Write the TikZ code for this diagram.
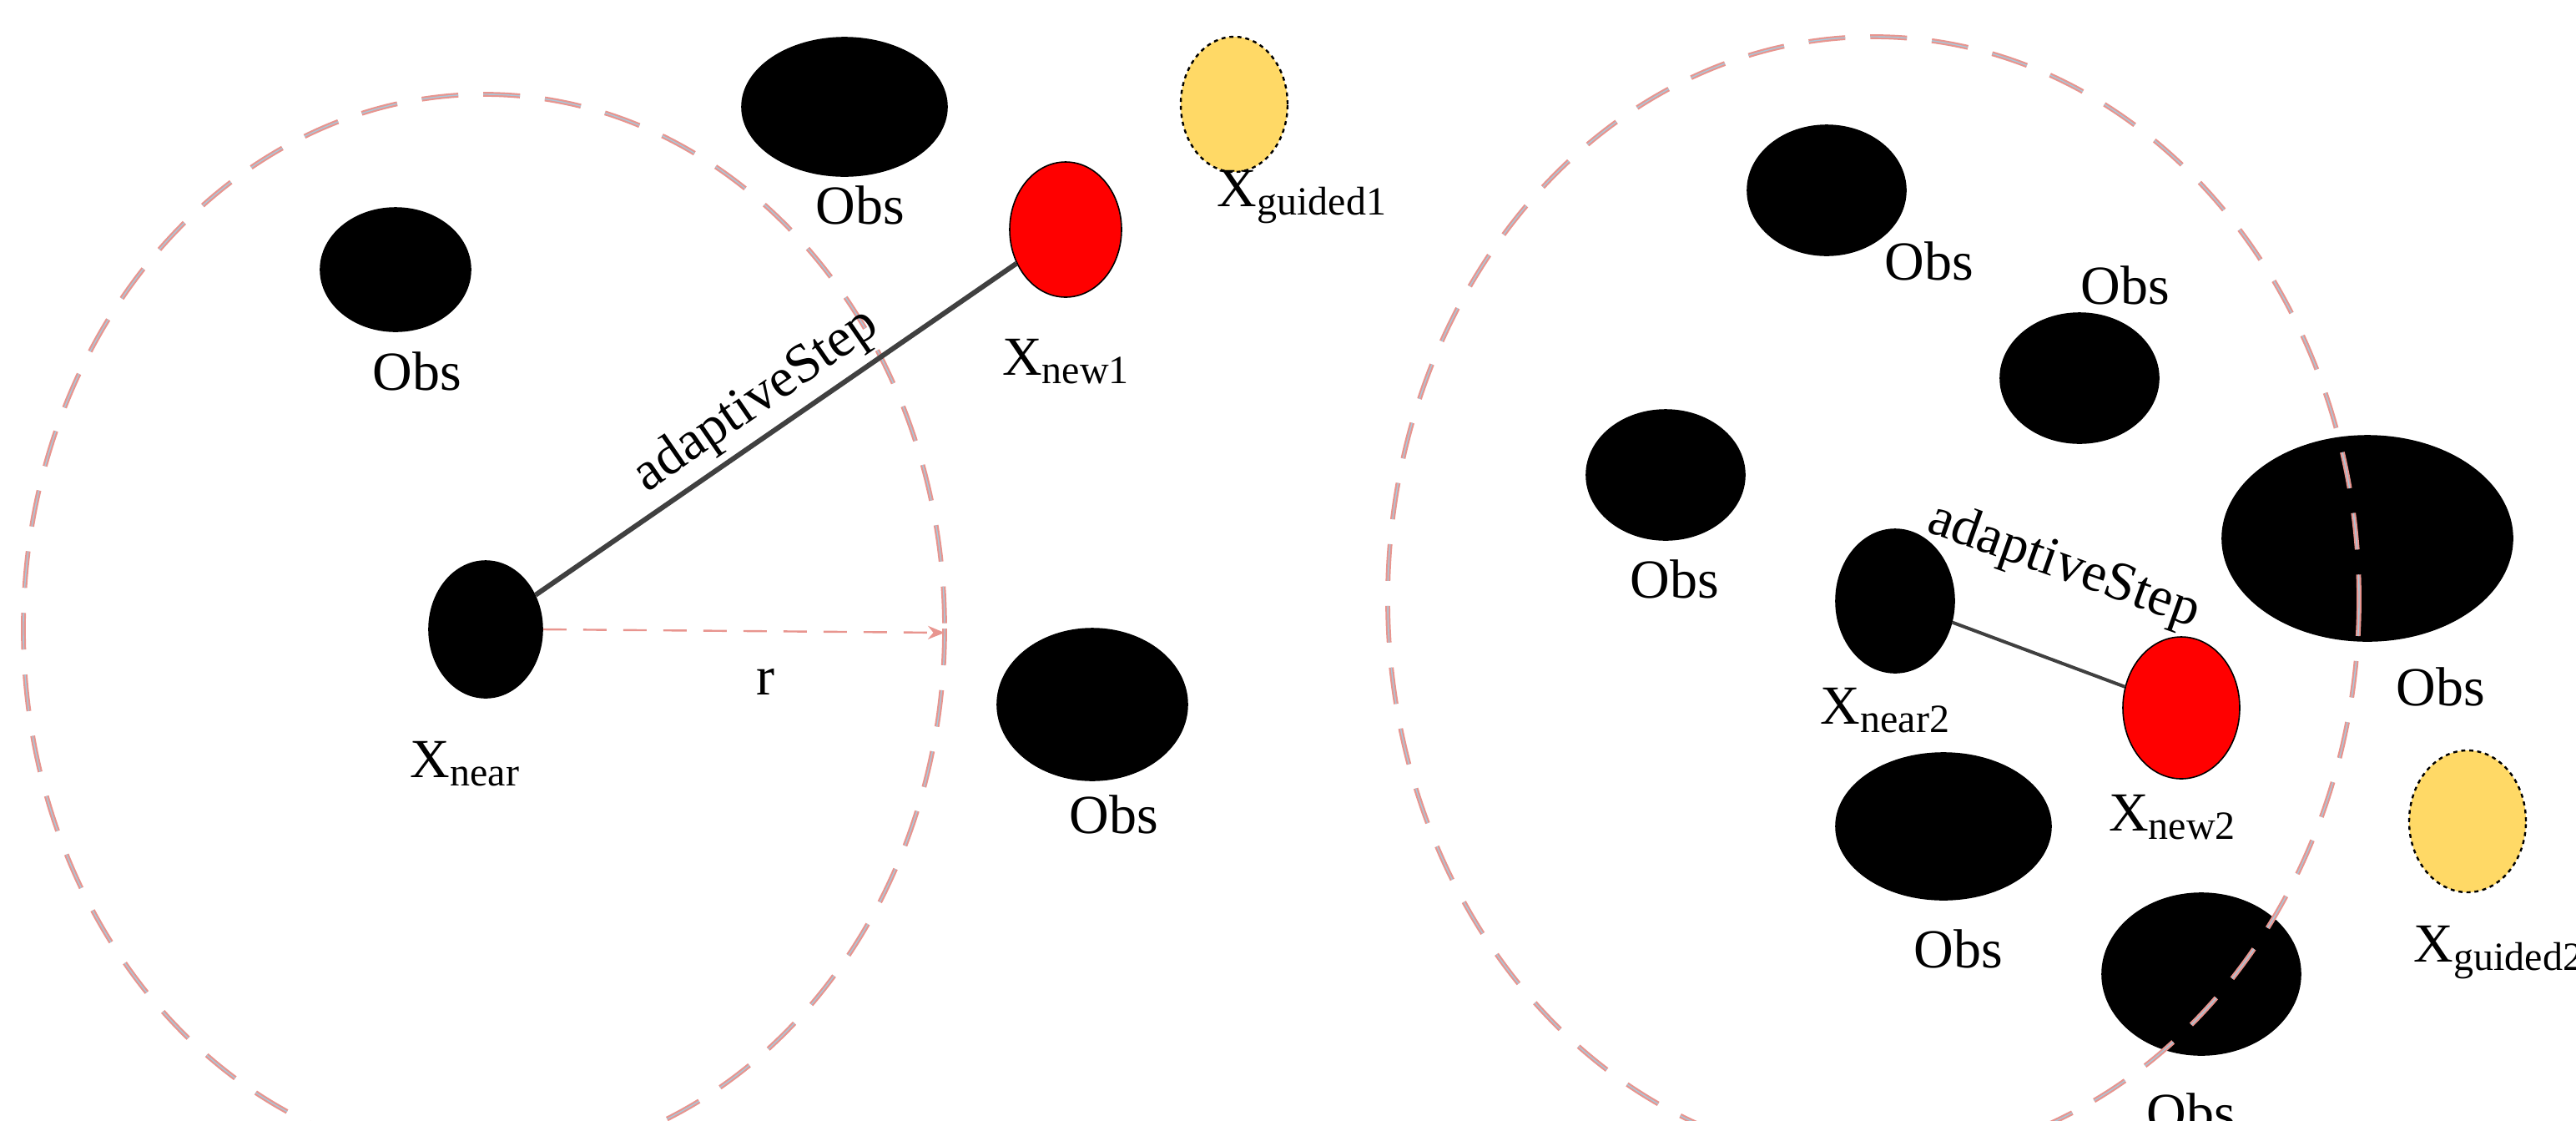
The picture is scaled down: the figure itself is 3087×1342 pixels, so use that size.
\documentclass[tikz,border=0pt]{standalone}
\usepackage{fontspec}
\setmainfont{Liberation Serif}
\usetikzlibrary{shapes.geometric,arrows.meta}
\definecolor{salmon}{HTML}{E8958F}
\definecolor{ltblue}{HTML}{A9C8DA}
\definecolor{gold}{HTML}{FFD966}
\definecolor{dgray}{HTML}{404040}
\newcommand{\lab}[2]{X\raisebox{-0.35ex}{\fontsize{12}{12}\selectfont #2}}
\begin{document}
\begin{tikzpicture}[x=0.25pt,y=-0.25pt,
  obs/.style={ellipse,fill=black,draw=black,inner sep=0pt},
  newpt/.style={ellipse,fill=red,draw=black,line width=0.4pt,inner sep=0pt},
  guide/.style={ellipse,fill=gold,draw=black,line width=0.6pt,dash pattern=on 1.2pt off 1.2pt,inner sep=0pt},
  txt/.style={font=\fontsize{16.5}{18}\selectfont,inner sep=0pt},
  rangecirc/.style={draw=salmon,double=ltblue,double distance=0.35pt,line width=0.55pt,dash pattern=on 11pt off 7.5pt},
  stepline/.style={draw=dgray,line width=1.5pt},
  captxt/.style={font=\fontsize{21}{24}\selectfont,inner sep=0pt}]
\useasboundingbox (0,0) rectangle (3087,1342);
% panel (a)
\draw[rangecirc] (580,753) ellipse [x radius=552, y radius=640];
\node[obs,minimum width=61.5pt,minimum height=41.5pt] (oa1) at (1012,128) {};
\node[txt] (loa1) at (1031,246) {Obs};
\node[obs,minimum width=45pt,minimum height=37pt] (oa2) at (474,323) {};
\node[txt] (loa2) at (500,445) {Obs};
\node[obs,minimum width=57pt,minimum height=45.5pt] (oa3) at (1309,844) {};
\node[txt] (loa3) at (1335,976) {Obs};
\node[obs,minimum width=34pt,minimum height=41pt] (xnear) at (582,754) {};
\node[txt] (lxnear) at (557,915) {\lab{}{near}};
\node[newpt,minimum width=33.5pt,minimum height=40.5pt] (xnew1) at (1277,275) {};
\node[txt] (lxnew1) at (1277,433) {\lab{}{new1}};
\node[guide,minimum width=32pt,minimum height=40.5pt] (xg1) at (1479,125) {};
\node[txt] (lxg1) at (1560,236) {\lab{}{guided1}};
\draw[stepline] (xnear) -- node[txt,sloped,above=2pt] (stepa) {adaptiveStep} (xnew1);
\coordinate (redge) at (1132,758);
\draw[salmon,line width=0.6pt,dash pattern=on 7pt off 5pt,-{Stealth[length=5pt,width=4pt]}] (xnear.east) -- (redge);
\node[txt] (lr) at (917,817) {r};
\node[captxt] (capa) at (817,1471) {(\textbf{a})};
% panel (b)
\node[obs,minimum width=47.5pt,minimum height=39pt] (ob1) at (2189,228) {};
\node[txt] (lob1) at (2312,313) {Obs};
\node[obs,minimum width=47.5pt,minimum height=39pt] (ob2) at (2492,453) {};
\node[txt] (lob2) at (2547,342) {Obs};
\node[obs,minimum width=47.5pt,minimum height=39pt] (ob3) at (1996,569) {};
\node[txt] (lob3) at (2007,694) {Obs};
\node[obs,minimum width=87pt,minimum height=61.5pt] (ob4) at (2837,645) {};
\node[txt] (lob4) at (2925,823) {Obs};
\node[obs,minimum width=64.5pt,minimum height=44pt] (ob5) at (2329,990) {};
\node[txt] (lob5) at (2347,1137) {Obs};
\node[obs,minimum width=59.5pt,minimum height=48.5pt] (ob6) at (2638,1167) {};
\node[txt] (lob6) at (2626,1333) {Obs};
\draw[rangecirc] (2245,718) ellipse [x radius=582, y radius=674];
\node[obs,minimum width=35.5pt,minimum height=43pt] (xnear2) at (2271,720) {};
\node[txt] (lxnear2) at (2259,851) {\lab{}{near2}};
\node[newpt,minimum width=35pt,minimum height=42.5pt] (xnew2) at (2614,848) {};
\node[txt] (lxnew2) at (2603,979) {\lab{}{new2}};
\node[guide,minimum width=35pt,minimum height=42.5pt] (xg2) at (2957,984) {};
\node[txt] (lxg2) at (2994,1141) {\lab{}{guided2}};
\draw[stepline,line width=1pt] (xnear2) -- (xnew2);
\node[txt,rotate=-19.6] (stepb) at (2473,679) {adaptiveStep};
\node[captxt] (capb) at (2360,1471) {(\textbf{b})};
\end{tikzpicture}
\end{document}
